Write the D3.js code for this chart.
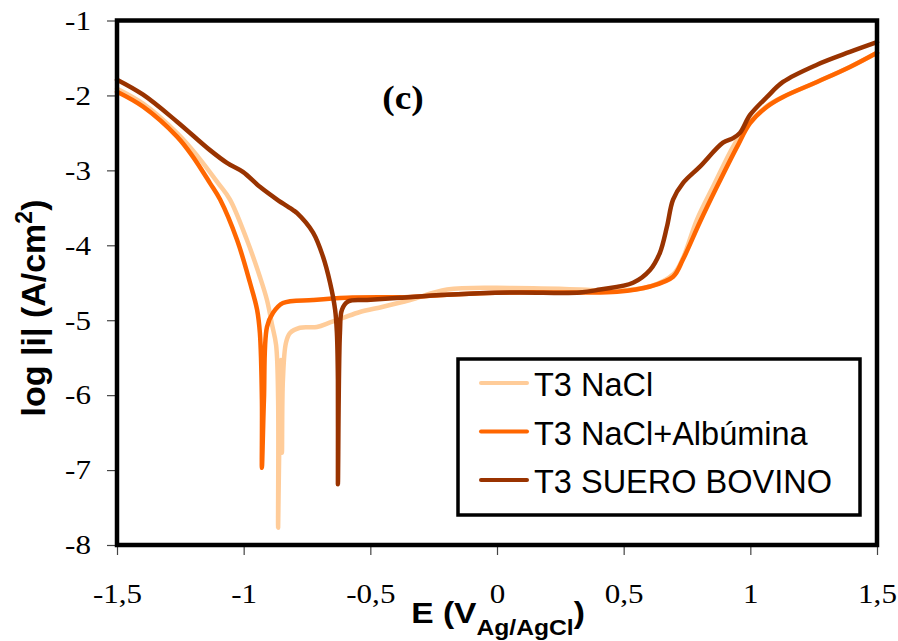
<!DOCTYPE html>
<html>
<head>
<meta charset="utf-8">
<script src="https://cdn.jsdelivr.net/npm/d3@7"></script>
<style>
  html, body { margin: 0; padding: 0; background: #fff; }
  svg { display: block; }
  .serif { font-family: "Liberation Serif", "Tinos", "Times New Roman", "DejaVu Serif", serif; }
  .sans { font-family: "Liberation Sans", Arimo, Arial, sans-serif; }
</style>
</head>
<body>
<svg id="chart" width="898" height="641"></svg>
<script>
// Potentiodynamic polarization curves: E (V vs Ag/AgCl) against log |i| (A/cm²)
const seriesNames = ["T3 NaCl", "T3 NaCl+Albúmina", "T3 SUERO BOVINO"];
const seriesColors = ["#FFCC99", "#FF6600", "#993300"];

const xTicks = [-1.5, -1, -0.5, 0, 0.5, 1, 1.5];
const yTicks = [-8, -7, -6, -5, -4, -3, -2, -1];

// [E, log|i|]
const naclCurve = [
  [-1.500, -1.91], [-1.397, -2.11], [-1.255, -2.53], [-1.180, -2.82], [-1.101, -3.17],
  [-1.054, -3.39], [-0.987, -3.93], [-0.936, -4.42], [-0.908, -4.73], [-0.888, -5.06],
  [-0.872, -5.33], [-0.864, -6.06], [-0.864, -7.77], [-0.857, -6.06], [-0.853, -5.53],
  [-0.849, -6.77], [-0.845, -5.79], [-0.833, -5.30], [-0.817, -5.17], [-0.778, -5.10],
  [-0.711, -5.09], [-0.659, -5.03], [-0.608, -4.97], [-0.541, -4.89], [-0.450, -4.82],
  [-0.343, -4.73], [-0.197, -4.59], [0.063, -4.57], [0.328, -4.59], [0.458, -4.61],
  [0.604, -4.55], [0.695, -4.39], [0.734, -4.17], [0.789, -3.66], [0.857, -3.19],
  [0.936, -2.66], [0.999, -2.35], [1.066, -2.14], [1.129, -2.02], [1.263, -1.82],
  [1.393, -1.62], [1.500, -1.43]
];

const albuminCurve = [
  [-1.500, -1.95], [-1.397, -2.15], [-1.263, -2.55], [-1.200, -2.82], [-1.133, -3.17],
  [-1.093, -3.39], [-1.026, -3.93], [-0.975, -4.50], [-0.947, -4.86], [-0.936, -5.17],
  [-0.928, -6.06], [-0.928, -6.97], [-0.920, -6.06], [-0.908, -5.09], [-0.884, -4.90],
  [-0.845, -4.77], [-0.726, -4.73], [-0.592, -4.70], [-0.343, -4.69], [-0.197, -4.66],
  [0.063, -4.63], [0.328, -4.63], [0.474, -4.62], [0.604, -4.55], [0.695, -4.42],
  [0.734, -4.19], [0.801, -3.69], [0.868, -3.22], [0.947, -2.69], [0.999, -2.37],
  [1.066, -2.15], [1.129, -2.02], [1.263, -1.82], [1.393, -1.62], [1.500, -1.43]
];

const serumCurve = [
  [-1.500, -1.79], [-1.397, -1.99], [-1.263, -2.35], [-1.133, -2.73], [-1.066, -2.90],
  [-1.003, -3.02], [-0.936, -3.22], [-0.868, -3.39], [-0.805, -3.53], [-0.789, -3.57],
  [-0.726, -3.83], [-0.687, -4.15], [-0.659, -4.50], [-0.639, -4.86], [-0.632, -5.17],
  [-0.628, -5.79], [-0.628, -7.19], [-0.620, -5.17], [-0.612, -4.86], [-0.588, -4.75],
  [-0.513, -4.73], [-0.383, -4.70], [-0.197, -4.66], [0.063, -4.63], [0.328, -4.63],
  [0.407, -4.59], [0.537, -4.50], [0.604, -4.33], [0.643, -4.10], [0.671, -3.75],
  [0.695, -3.39], [0.734, -3.17], [0.801, -2.95], [0.892, -2.63], [0.932, -2.57],
  [0.959, -2.50], [0.999, -2.26], [1.066, -2.02], [1.129, -1.82], [1.263, -1.59],
  [1.393, -1.42], [1.500, -1.29]
];

const curves = [naclCurve, albuminCurve, serumCurve];

const svg = d3.select("#chart");
const plotLeft = 117, plotRight = 877, plotTop = 20.5, plotBottom = 545;

const x = d3.scaleLinear().domain([-1.5, 1.5]).range([plotLeft, plotRight]);
const y = d3.scaleLinear().domain([-8, -1]).range([plotBottom, plotTop]);

const fmt = d => String(d).replace(".", ",");
const tickStretch = 1.13;   // slightly wide serif digits

// axes
const xAxis = d3.axisBottom(x).tickValues(xTicks).tickFormat(fmt).tickSize(10).tickPadding(28);
const yAxis = d3.axisLeft(y).tickValues(yTicks).tickFormat(fmt).tickSize(10).tickPadding(16);

const gx = svg.append("g").attr("transform", `translate(0,${plotBottom})`).call(xAxis);
const gy = svg.append("g").attr("transform", `translate(${plotLeft},0)`).call(yAxis);
[gx, gy].forEach(g => {
  g.attr("font-family", null).attr("font-size", null);
  g.select(".domain").remove();
  g.selectAll(".tick line").attr("stroke", "#444").attr("stroke-width", 1.2);
  g.selectAll(".tick text")
    .attr("class", "serif")
    .attr("fill", "#000")
    .attr("transform", `scale(${tickStretch},1)`)
    .style("font-size", "27.5px");
});
gy.selectAll(".tick text").attr("x", -26 / tickStretch);

// series
const line = d3.line()
  .x(d => x(d[0]))
  .y(d => y(d[1]))
  .curve(d3.curveCatmullRom.alpha(0.5));

svg.append("g")
  .selectAll("path")
  .data(curves)
  .join("path")
  .attr("d", line)
  .attr("fill", "none")
  .attr("stroke", (d, i) => seriesColors[i])
  .attr("stroke-width", 4.5)
  .attr("stroke-linejoin", "round")
  .attr("stroke-linecap", "round");

// plot frame
svg.append("rect")
  .attr("x", plotLeft).attr("y", plotTop)
  .attr("width", plotRight - plotLeft).attr("height", plotBottom - plotTop)
  .attr("fill", "none").attr("stroke", "#000").attr("stroke-width", 4.5);

// panel label
svg.append("text")
  .attr("class", "serif")
  .attr("transform", "translate(403,109) scale(1.1,1)")
  .attr("text-anchor", "middle")
  .style("font-weight", "bold")
  .style("font-size", "34px")
  .text("(c)");

// legend
const legend = svg.append("g");
legend.append("rect")
  .attr("x", 458).attr("y", 359).attr("width", 402).attr("height", 156)
  .attr("fill", "#fff").attr("stroke", "#000").attr("stroke-width", 3.5);
const rows = legend.selectAll("g.row")
  .data(seriesNames)
  .join("g")
  .attr("class", "row")
  .attr("transform", (d, i) => `translate(0,${383 + i * 48.5})`);
rows.append("line")
  .attr("x1", 481).attr("x2", 527)
  .attr("stroke", (d, i) => seriesColors[i])
  .attr("stroke-width", 4).attr("stroke-linecap", "round");
rows.append("text")
  .attr("class", "sans")
  .attr("x", 534).attr("y", 0).attr("dy", "0.4em")
  .style("font-size", "32.5px")
  .text(d => d);

// axis titles
const xt = svg.append("text")
  .attr("class", "sans")
  .attr("transform", "translate(498,623) scale(1.12,1)")
  .attr("text-anchor", "middle")
  .style("font-weight", "bold")
  .style("font-size", "30px");
xt.append("tspan").text("E (V");
xt.append("tspan").attr("dy", 12).style("font-size", "22px").text("Ag/AgCl");
xt.append("tspan").attr("dy", -12).text(")");

const yt = svg.append("text")
  .attr("class", "sans")
  .attr("transform", "translate(45,308) rotate(-90)")
  .attr("text-anchor", "middle")
  .style("font-weight", "bold")
  .style("font-size", "34px");
yt.append("tspan").text("log |i| (A/cm");
yt.append("tspan").attr("dy", -13).style("font-size", "23px").text("2");
yt.append("tspan").attr("dy", 13).text(")");
</script>
</body>
</html>
